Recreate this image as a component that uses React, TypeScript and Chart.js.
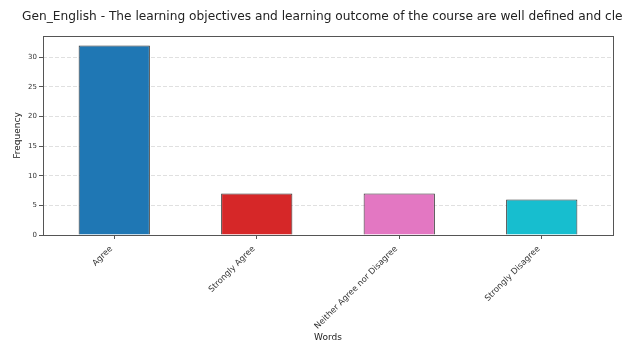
import React, { useEffect, useRef } from "react";
import { Chart, registerables } from "chart.js";

Chart.register(...registerables);

const TITLE = "Gen_English - The learning objectives and learning outcome of the course are well defined and clear";
const categories = ["Agree", "Strongly Agree", "Neither Agree nor Disagree", "Strongly Disagree"];
const frequencies = [32, 7, 7, 6];
const barColors = ["#1f77b4", "#d62728", "#e377c2", "#17becf"];
const yTicks = [0, 5, 10, 15, 20, 25, 30];
const yMax = 33.6;

export default function App() {
  const ref = useRef<HTMLCanvasElement | null>(null);

  useEffect(() => {
    const canvas = ref.current;
    if (!canvas) return;
    const framePlugin = {
      id: "framePlugin",
      afterDraw(chart: any) {
        const { ctx, chartArea } = chart;
        ctx.save();
        ctx.strokeStyle = "#555";
        ctx.lineWidth = 1;
        ctx.setLineDash([]);
        ctx.strokeRect(
          Math.round(chartArea.left) + 0.5,
          Math.round(chartArea.top) + 0.5,
          Math.round(chartArea.right - chartArea.left),
          Math.round(chartArea.bottom - chartArea.top)
        );
        ctx.fillStyle = "#222";
        ctx.font = '12.2px "DejaVu Sans"';
        ctx.textBaseline = "middle";
        ctx.textAlign = "left";
        ctx.fillText(TITLE, 22, 17);
        ctx.restore();
      },
    };
    const chart = new Chart(canvas, {
      type: "bar",
      data: {
        labels: categories,
        datasets: [
          {
            data: frequencies,
            backgroundColor: barColors,
            borderColor: "#333",
            borderWidth: 1,
            barPercentage: 0.5,
            categoryPercentage: 1,
          },
        ],
      },
      options: {
        animation: false,
        responsive: false,
        layout: { padding: { top: 36, right: 10, left: 0, bottom: 0 } },
        plugins: {
          legend: { display: false },
          tooltip: { enabled: false },
          title: { display: false },
        },
        scales: {
          x: {
            offset: true,
            grid: {
              display: true,
              offset: false,
              drawOnChartArea: false,
              color: "transparent",
              tickColor: "#555",
              tickLength: 4,
            },
            border: { display: false },
            ticks: {
              color: "#333",
              font: { family: "DejaVu Sans", size: 8.3 },
              minRotation: 45,
              maxRotation: 45,
              autoSkip: false,
              padding: 5,
              labelOffset: -3,
            },
            title: {
              display: true,
              text: "Words",
              color: "#222",
              font: { family: "DejaVu Sans", size: 9 },
              padding: { top: 0, bottom: 3 },
            },
            afterFit(scale: any) {
              scale.height = 111;
            },
          },
          y: {
            min: 0,
            max: yMax,
            grid: {
              color: "#e0e0e0",
              tickColor: "#555",
              tickLength: 4,
              tickBorderDash: [],
            },
            border: { display: false, dash: [4, 2] },
            ticks: {
              color: "#333",
              font: { family: "DejaVu Sans", size: 7 },
              padding: 2,
            },
            afterBuildTicks(scale: any) {
              scale.ticks = yTicks.map((v) => ({ value: v }));
            },
            title: {
              display: true,
              text: "Frequency",
              color: "#222",
              font: { family: "DejaVu Sans", size: 9 },
              padding: { top: 12, bottom: 0 },
            },
            afterFit(scale: any) {
              scale.width = 43;
            },
          },
        },
      },
      plugins: [framePlugin],
    });
    return () => chart.destroy();
  }, []);

  return (
    <div style={{ position: "fixed", left: 0, top: 0, width: 623, height: 346, background: "#fff" }}>
      <canvas ref={ref} width={623} height={346} style={{ width: 623, height: 346, display: "block" }} />
    </div>
  );
}
